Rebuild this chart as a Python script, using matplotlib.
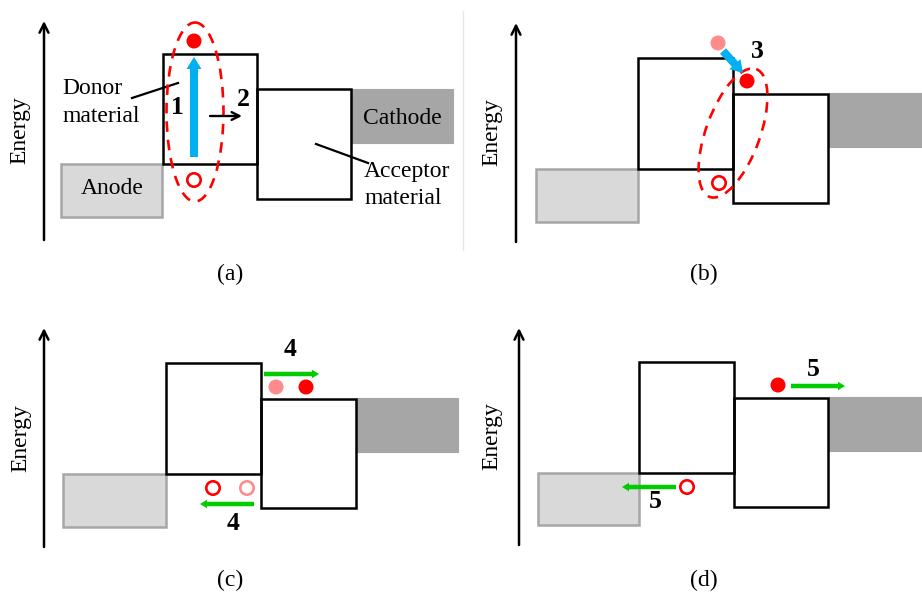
import matplotlib
matplotlib.use("Agg")
import matplotlib.pyplot as plt
from matplotlib.patches import Rectangle, Ellipse, Circle, FancyArrow

W, H = 922, 592
SERIF = ["Liberation Serif", "DejaVu Serif"]

# ---- diagram data (pixel space of the figure) ----
panel_labels = ["(a)", "(b)", "(c)", "(d)"]
label_pos = [(230, 274), (704, 274), (230, 580), (704, 580)]
energy_axis = [(44, 240, 21), (516, 242, 23), (44, 547, 328), (519, 545, 328)]  # x, y_bottom, y_top
energy_text = [(20, 130), (492, 132), (21, 438), (492, 436)]

anode_boxes = [(61, 164, 162, 217), (536, 169, 638, 222), (63, 474, 166, 527), (538, 473, 639, 525)]
donor_boxes = [(163, 54, 257, 164), (638, 58, 733, 169), (166, 363, 261, 474), (639, 362, 734, 473)]
acceptor_boxes = [(257, 89, 351, 199), (733, 94, 828, 203), (261, 399, 356, 508), (734, 398, 828, 507)]
cathode_boxes = [(352, 89, 453, 143), (829, 93, 922, 147), (356, 398, 458, 452), (829, 397, 922, 451)]

# exciton ellipses: cx, cy, width, height, angle
ellipses = [(195, 112, 57, 179, 0), (733, 133, 54, 136, 20)]

electrons = [(194, 41), (747, 81), (306, 387), (778, 385)]
electrons_faded = [(718, 43), (276, 387)]
holes = [(194, 180), (719, 183), (213, 488), (687, 487)]
holes_faded = [(247, 488)]

blue_arrows = [(194, 157, 194, 57), (723, 51, 743, 73)]   # x0, y0, x1, y1
green_arrows = [(264, 374, 319, 374), (254, 504, 200, 504),
                (791, 386, 845, 386), (676, 487, 622, 487)]
step_labels = [("1", 177, 107), ("2", 243, 99), ("3", 757, 51),
               ("4", 290, 350), ("4", 233, 524), ("5", 813, 370), ("5", 655, 502)]

# ---- drawing ----
fig = plt.figure(figsize=(W / 100, H / 100), dpi=100)
ax = fig.add_axes([0, 0, 1, 1])
ax.set_xlim(0, W)
ax.set_ylim(H, 0)
ax.set_aspect("auto")
ax.axis("off")

RED = "#ff0000"
PINK = "#ff8c8c"
BLUE = "#00b0f0"
GREEN = "#00cc00"
BOX_LW = 1.8
FS = 17

# faint separator
ax.plot([462.5, 462.5], [11, 250], color="#e3e8ee", lw=1)

def rect(b, **kw):
    x0, y0, x1, y1 = b
    ax.add_patch(Rectangle((x0, y0), x1 - x0, y1 - y0, **kw))

for i in range(4):
    rect(anode_boxes[i], facecolor="#d9d9d9", edgecolor="#a6a6a6", lw=BOX_LW, zorder=2)
    rect(cathode_boxes[i], facecolor="#a6a6a6", edgecolor="#a6a6a6", lw=0.8, zorder=2)
    rect(donor_boxes[i], facecolor="none", edgecolor="black", lw=BOX_LW, zorder=3)
    rect(acceptor_boxes[i], facecolor="none", edgecolor="black", lw=BOX_LW, zorder=3)
    x, yb, yt = energy_axis[i]
    ax.annotate("", xy=(x, yt), xytext=(x, yb),
                arrowprops=dict(arrowstyle="->", lw=1.8, color="black",
                                mutation_scale=16, shrinkA=0, shrinkB=0))
    ex, ey = energy_text[i]
    ax.text(ex, ey, "Energy", rotation=90, ha="center", va="center",
            fontsize=FS, family=SERIF)
    lx, ly = label_pos[i]
    ax.text(lx, ly, panel_labels[i], ha="center", va="center", fontsize=FS, family=SERIF)

for cx, cy, w, h, a in ellipses:
    ax.add_patch(Ellipse((cx, cy), w, h, angle=a, facecolor="none", edgecolor=RED,
                         lw=1.9, ls=(0, (4, 3)), zorder=4))

R = 7.5
for x, y in electrons:
    ax.add_patch(Circle((x, y), R, facecolor=RED, edgecolor="none", zorder=6))
for x, y in electrons_faded:
    ax.add_patch(Circle((x, y), R, facecolor=PINK, edgecolor="none", zorder=6))
for x, y in holes:
    ax.add_patch(Circle((x, y), R - 0.8, facecolor="white", edgecolor=RED, lw=1.9, zorder=6))
for x, y in holes_faded:
    ax.add_patch(Circle((x, y), R - 0.8, facecolor="white", edgecolor=PINK, lw=1.9, zorder=6))

for x0, y0, x1, y1 in blue_arrows:
    ax.add_patch(FancyArrow(x0, y0, x1 - x0, y1 - y0, width=8, head_width=15,
                            head_length=12, length_includes_head=True,
                            color=BLUE, lw=0, zorder=5))
for x0, y0, x1, y1 in green_arrows:
    ax.add_patch(FancyArrow(x0, y0, x1 - x0, y1 - y0, width=4.5, head_width=8.5,
                            head_length=7, length_includes_head=True,
                            color=GREEN, lw=0, zorder=5))

# small black arrow (step 2)
ax.annotate("", xy=(242, 116), xytext=(210, 116),
            arrowprops=dict(arrowstyle="->", lw=1.7, color="black",
                            mutation_scale=14, shrinkA=0, shrinkB=0), zorder=5)

for s, x, y in step_labels:
    ax.text(x, y, s, ha="center", va="center", fontsize=18.5, fontweight="bold",
            family=SERIF, zorder=7)

# material labels
ax.text(62, 89, "Donor", ha="left", va="center", fontsize=FS, family=SERIF)
ax.text(62, 117, "material", ha="left", va="center", fontsize=FS, family=SERIF)
ax.plot([132, 178], [98, 83], color="black", lw=1.6)
ax.text(364, 172, "Acceptor", ha="left", va="center", fontsize=FS, family=SERIF)
ax.text(364, 199, "material", ha="left", va="center", fontsize=FS, family=SERIF)
ax.plot([316, 368], [144, 163], color="black", lw=1.6)
ax.text(402, 118, "Cathode", ha="center", va="center", fontsize=FS, family=SERIF, zorder=4)
ax.text(112, 188, "Anode", ha="center", va="center", fontsize=FS, family=SERIF, zorder=4)

fig.savefig("out.png", dpi=100, facecolor="white")
